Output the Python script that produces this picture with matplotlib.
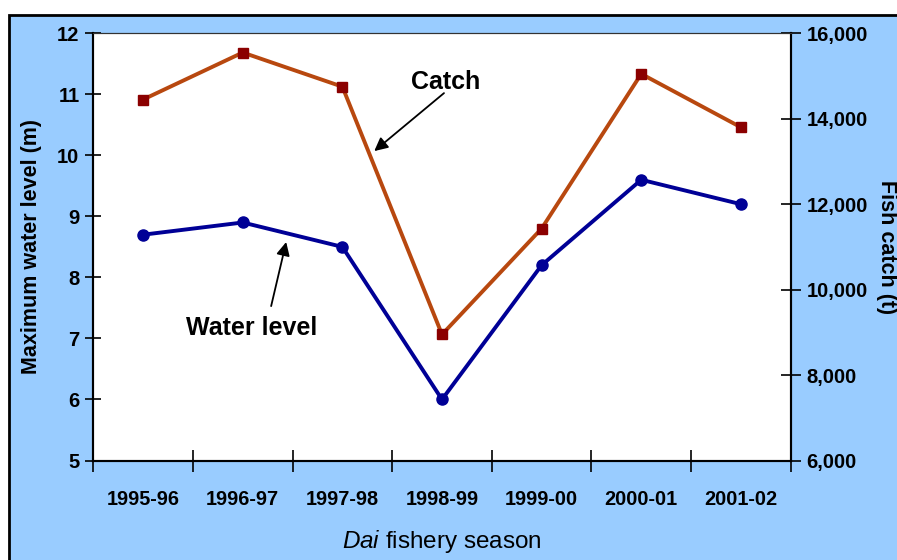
import numpy as np
import matplotlib
matplotlib.use("Agg")
import matplotlib.pyplot as plt
from matplotlib.patches import Rectangle

plt.rcParams["font.family"] = ["Liberation Sans", "DejaVu Sans"]
plt.rcParams["mathtext.fontset"] = "custom"
plt.rcParams["mathtext.rm"] = "Liberation Sans"
plt.rcParams["mathtext.it"] = "Liberation Sans:italic"

# Data
seasons = ["1995-96", "1996-97", "1997-98", "1998-99", "1999-00", "2000-01", "2001-02"]
water_level = [8.7, 8.9, 8.5, 6.0, 8.2, 9.6, 9.2]          # m
fish_catch = [14450, 15550, 14750, 8950, 11430, 15050, 13800]  # t

left_ticks = [5, 6, 7, 8, 9, 10, 11, 12]
right_ticks = [6000, 8000, 10000, 12000, 14000, 16000]

bg_blue = "#99CCFF"
catch_line = "#B8480F"
catch_marker = "#8B0000"
water_color = "#000096"

fig = plt.figure(figsize=(8.97, 5.6), dpi=100)
fig.patch.set_facecolor("white")

# blue panel with black frame (top and left edges visible)
panel = Rectangle((9 / 897, -0.05), 1.0, 1 - 15 / 560 + 0.05,
                  transform=fig.transFigure, facecolor=bg_blue,
                  edgecolor="black", linewidth=2.0, zorder=-10)
fig.add_artist(panel)

ax = fig.add_axes([93.3 / 897, 1 - 460.5 / 560,
                   (790.7 - 93.3) / 897, (460.5 - 33.3) / 560])
ax.set_facecolor("white")
ax2 = ax.twinx()

x = np.arange(len(seasons))

ax.plot(x, water_level, color=water_color, linewidth=2.8,
        marker="o", markersize=8, markerfacecolor=water_color,
        markeredgecolor=water_color, zorder=3)
ax2.plot(x, fish_catch, color=catch_line, linewidth=2.8,
         marker="s", markersize=7.5, markerfacecolor=catch_marker,
         markeredgecolor=catch_marker, zorder=3)

ax.set_xlim(-0.5, len(seasons) - 0.5)
ax.set_ylim(5, 12)
ax2.set_ylim(6000, 16000)

# x ticks at category boundaries, labels centered between them
ax.set_xticks(np.arange(-0.5, len(seasons), 1.0))
ax.set_xticklabels([])
ax.set_xticks(x, minor=True)
ax.set_xticklabels(seasons, minor=True, fontsize=14.3, fontweight="bold")
ax.tick_params(axis="x", which="minor", length=0, pad=21)
ax.tick_params(axis="x", which="major", direction="inout", length=16, width=1.2)

ax.set_yticks(left_ticks)
ax.set_yticklabels([str(t) for t in left_ticks], fontsize=14.5, fontweight="bold")
ax.tick_params(axis="y", direction="inout", length=12, width=1.2, pad=4)

ax2.set_yticks(right_ticks)
ax2.set_yticklabels([f"{t:,}" for t in right_ticks], fontsize=14.5, fontweight="bold")
ax2.tick_params(axis="y", direction="inout", length=15, width=1.2, pad=4)

for a in (ax, ax2):
    a.spines["left"].set_linewidth(1.5)
    a.spines["right"].set_linewidth(1.5)
    a.spines["bottom"].set_linewidth(1.5)
    a.spines["top"].set_linewidth(0.8)
    a.spines["top"].set_color("#333333")

ax.set_ylabel("Maximum water level (m)", fontsize=15.5, fontweight="bold")
ax.yaxis.set_label_coords(-0.074, 0.5)
ax2.set_ylabel("Fish catch (t)", fontsize=15.5, fontweight="bold",
               rotation=-90, va="center")
ax2.yaxis.set_label_coords(1.137, 0.5)
ax.set_xlabel(r"$\it{Dai}$ fishery season", fontsize=17.5)
ax.xaxis.set_label_coords(0.5, -0.158)

# annotations: label text plus separate arrow
ax.text(3.04, 11.2, "Catch", fontsize=18, fontweight="bold",
        ha="center", va="center")
ax.annotate("", xy=(2.32, 10.07), xytext=(3.02, 11.02),
            arrowprops=dict(arrowstyle="-|>", color="black", lw=1.3,
                            mutation_scale=20, shrinkA=0, shrinkB=0))
ax.text(1.09, 7.17, "Water level", fontsize=18, fontweight="bold",
        ha="center", va="center")
ax.annotate("", xy=(1.436, 8.58), xytext=(1.285, 7.53),
            arrowprops=dict(arrowstyle="-|>", color="black", lw=1.3,
                            mutation_scale=20, shrinkA=0, shrinkB=0))

fig.savefig("out.png", dpi=100)
